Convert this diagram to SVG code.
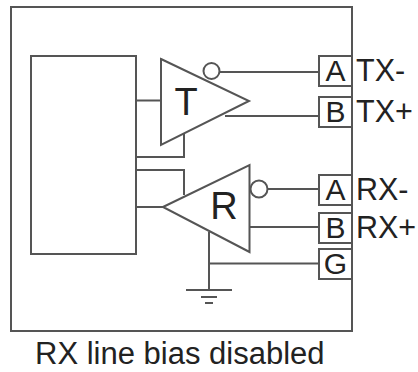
<svg xmlns="http://www.w3.org/2000/svg" width="418" height="372" viewBox="0 0 418 372">
<style>
.s{fill:none;stroke:#555;stroke-width:2}
.b{fill:#fff;stroke:#555;stroke-width:2}
.c{stroke:#555;stroke-width:2;fill:none}
.t{font-family:"Liberation Sans",Arial,sans-serif;fill:#222}
.p{font-size:30px;text-anchor:middle}
.l{font-size:30.500px}
.g{font-size:38px;text-anchor:middle}
</style>
<rect width="418" height="372" fill="#fff"/>
<g id="board"><rect class="s" x="11" y="7" width="341" height="324"/></g>
<g id="controller"><rect class="s" x="31" y="56" width="105" height="198"/></g>
<g id="connectors">
<path class="c" d="M136 100.500H161M136 157H184V134M136 170H184V195M136 207H163"/>
<path class="c" d="M220 72H319M225 116H319M268 189H319M250 227H319M209 232V290M209 263.500H319"/>
<path class="c" d="M186 290H232M201 297H217M205 303H213"/>
</g>
<g id="driver-t">
<polygon class="b" points="161,59 249,101 161,145"/>
<circle class="b" cx="211.500" cy="71" r="8"/>
<text class="t g" x="186" y="115">T</text>
</g>
<g id="receiver-r">
<polygon class="b" points="163,207 249.500,165 249.500,252"/>
<circle class="b" cx="259" cy="189" r="8.500"/>
<text class="t g" x="224" y="219">R</text>
</g>
<g id="pin-tx-a"><rect class="b" x="319" y="56" width="33" height="30"/><text class="t p" x="335.500" y="81">A</text><text class="t l" x="356" y="81">TX-</text></g>
<g id="pin-tx-b"><rect class="b" x="319" y="97" width="33" height="30"/><text class="t p" x="335.500" y="122">B</text><text class="t l" x="356" y="122">TX+</text></g>
<g id="pin-rx-a"><rect class="b" x="319" y="175" width="33" height="30"/><text class="t p" x="335.500" y="200">A</text><text class="t l" x="356" y="200">RX-</text></g>
<g id="pin-rx-b"><rect class="b" x="319" y="213" width="33" height="30"/><text class="t p" x="335.500" y="238">B</text><text class="t l" x="356" y="238">RX+</text></g>
<g id="pin-g"><rect class="b" x="319" y="249" width="33" height="30"/><text class="t p" x="335.500" y="274">G</text></g>
<text class="t" x="35" y="364" font-size="31">RX line bias disabled</text>
</svg>
